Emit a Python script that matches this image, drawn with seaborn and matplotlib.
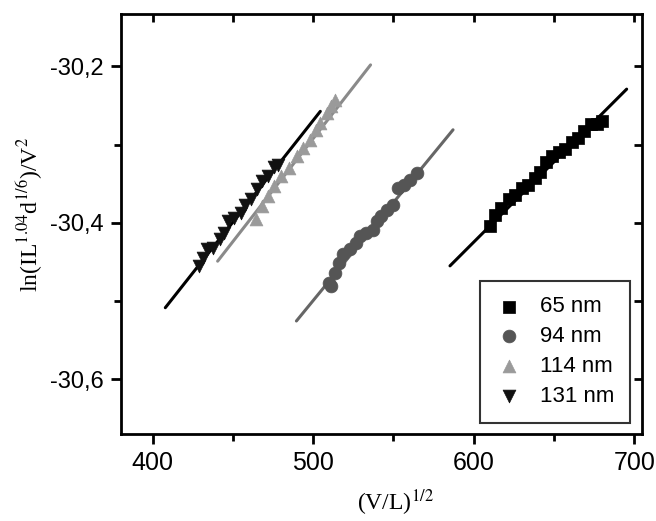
import matplotlib
matplotlib.use("Agg")
import matplotlib.pyplot as plt
import seaborn as sns
import pandas as pd
from matplotlib.ticker import FixedLocator, FuncFormatter

# 65 nm (squares)
x_65 = [610, 613, 617, 622, 626, 630, 634, 638, 641, 645, 649, 653, 657, 661, 665, 669, 673, 677, 680]
y_65 = [-30.404, -30.390, -30.381, -30.370, -30.364, -30.356, -30.352, -30.343, -30.335, -30.322, -30.314, -30.310, -30.306, -30.297, -30.291, -30.282, -30.274, -30.274, -30.270]
fit_65_x = [585.2, 695.3]
fit_65_y = [-30.455, -30.229]

# 94 nm (circles)
x_94 = [509.6, 510.9, 513.5, 516.1, 518.7, 522.6, 526.5, 529.1, 533.1, 537.0, 539.6, 542.2, 546.1, 550.0, 552.6, 556.5, 560.4, 564.4]
y_94 = [-30.477, -30.481, -30.464, -30.451, -30.440, -30.434, -30.426, -30.417, -30.413, -30.409, -30.398, -30.391, -30.383, -30.377, -30.355, -30.351, -30.345, -30.336]
fit_94_x = [489.5, 587.1]
fit_94_y = [-30.5255, -30.281]

# 114 nm (up triangles)
x_114 = [464.5, 467.8, 471.7, 475.7, 479.6, 484.8, 490.0, 493.9, 497.8, 501.7, 504.4, 508.3, 510.9, 513.5]
y_114 = [-30.395, -30.379, -30.366, -30.353, -30.340, -30.330, -30.315, -30.304, -30.294, -30.281, -30.272, -30.260, -30.251, -30.243]
fit_114_x = [440.4, 535.7]
fit_114_y = [-30.449, -30.198]

# 131 nm (down triangles)
x_131 = [428.7, 431.3, 433.9, 437.8, 441.7, 444.4, 447.0, 450.9, 454.8, 457.4, 461.3, 465.2, 467.8, 471.7, 475.7, 478.3]
y_131 = [-30.455, -30.445, -30.434, -30.432, -30.421, -30.413, -30.398, -30.394, -30.387, -30.377, -30.370, -30.357, -30.347, -30.340, -30.328, -30.326]
fit_131_x = [407.8, 504.4]
fit_131_y = [-30.5085, -30.2574]

labels = ["65 nm", "94 nm", "114 nm", "131 nm"]
markers = ["s", "o", "^", "v"]
colors = ["#000000", "#555555", "#9a9a9a", "#111111"]
line_colors = ["#000000", "#666666", "#8a8a8a", "#000000"]

sns.set_style("ticks")
plt.rcParams["font.family"] = ["Liberation Sans", "DejaVu Sans"]
plt.rcParams["mathtext.fontset"] = "stix"
plt.rcParams["text.color"] = "black"
plt.rcParams["axes.labelcolor"] = "black"
plt.rcParams["xtick.color"] = "black"
plt.rcParams["ytick.color"] = "black"

fig = plt.figure(figsize=(6.56, 5.21), dpi=100)
ax = fig.add_axes([0.184, 0.167, 0.795, 0.806])

series = [(x_65, y_65, fit_65_x, fit_65_y), (x_94, y_94, fit_94_x, fit_94_y),
          (x_114, y_114, fit_114_x, fit_114_y), (x_131, y_131, fit_131_x, fit_131_y)]

# lines first, then points on top (131 nm over 114 nm)
for i in range(4):
    xs, ys, fx, fy = series[i]
    sns.lineplot(x=fx, y=fy, ax=ax, color=line_colors[i], linewidth=2.2, zorder=2)
for i in range(4):
    xs, ys, fx, fy = series[i]
    df = pd.DataFrame({"x": xs, "y": ys})
    sns.scatterplot(data=df, x="x", y="y", ax=ax, marker=markers[i], color=colors[i],
                    s=85, edgecolor=colors[i], linewidth=0.5, label=labels[i], zorder=3 + i)

ax.set_xlim(380, 705)
ax.set_ylim(-30.67, -30.133)
ax.xaxis.set_major_locator(FixedLocator([400, 500, 600, 700]))
ax.xaxis.set_minor_locator(FixedLocator([450, 550, 650]))
ax.yaxis.set_major_locator(FixedLocator([-30.6, -30.4, -30.2]))
ax.yaxis.set_minor_locator(FixedLocator([-30.5, -30.3]))
ax.yaxis.set_major_formatter(FuncFormatter(lambda v, p: f"{v:.1f}".replace(".", ",")))

for s in ax.spines.values():
    s.set_linewidth(2)
    s.set_color("black")
ax.tick_params(which="both", width=2, color="black", labelcolor="black", direction="out", pad=5)
ax.tick_params(axis="x", labelsize=18)
ax.tick_params(axis="y", labelsize=17)
ax.tick_params(which="major", length=7)
ax.tick_params(which="minor", length=5)
ax.tick_params(axis="both", which="both", top=False, right=False)
# inward ticks on top/right
ax2 = ax.secondary_xaxis("top")
ax2.xaxis.set_major_locator(FixedLocator([400, 450, 500, 550, 600, 650, 700]))
ax2.tick_params(direction="in", length=6, width=2, labeltop=False)
ax3 = ax.secondary_yaxis("right")
ax3.yaxis.set_major_locator(FixedLocator([-30.6, -30.5, -30.4, -30.3, -30.2]))
ax3.tick_params(direction="in", length=6, width=2, labelright=False)

ax.set_xlabel(r"(V/L)$^{1/2}$", fontsize=17, fontfamily="Liberation Serif", labelpad=9)
ax.xaxis.label.set_x(0.526)
ax.set_ylabel(r"ln(IL$^{1.04}$d$^{1/6}$)/V$^{2}$", fontsize=17, fontfamily="Liberation Serif", labelpad=4)
ax.yaxis.label.set_y(0.524)

leg = ax.legend(loc="lower right", bbox_to_anchor=(0.977, 0.027), borderaxespad=0,
                fontsize=16, frameon=True, fancybox=False, edgecolor="black",
                handlelength=1.2, handletextpad=0.8, labelspacing=0.4, borderpad=0.7)
leg.get_frame().set_linewidth(1.5)
for t in leg.get_texts():
    t.set_color("black")

fig.savefig("out.png", dpi=100)
